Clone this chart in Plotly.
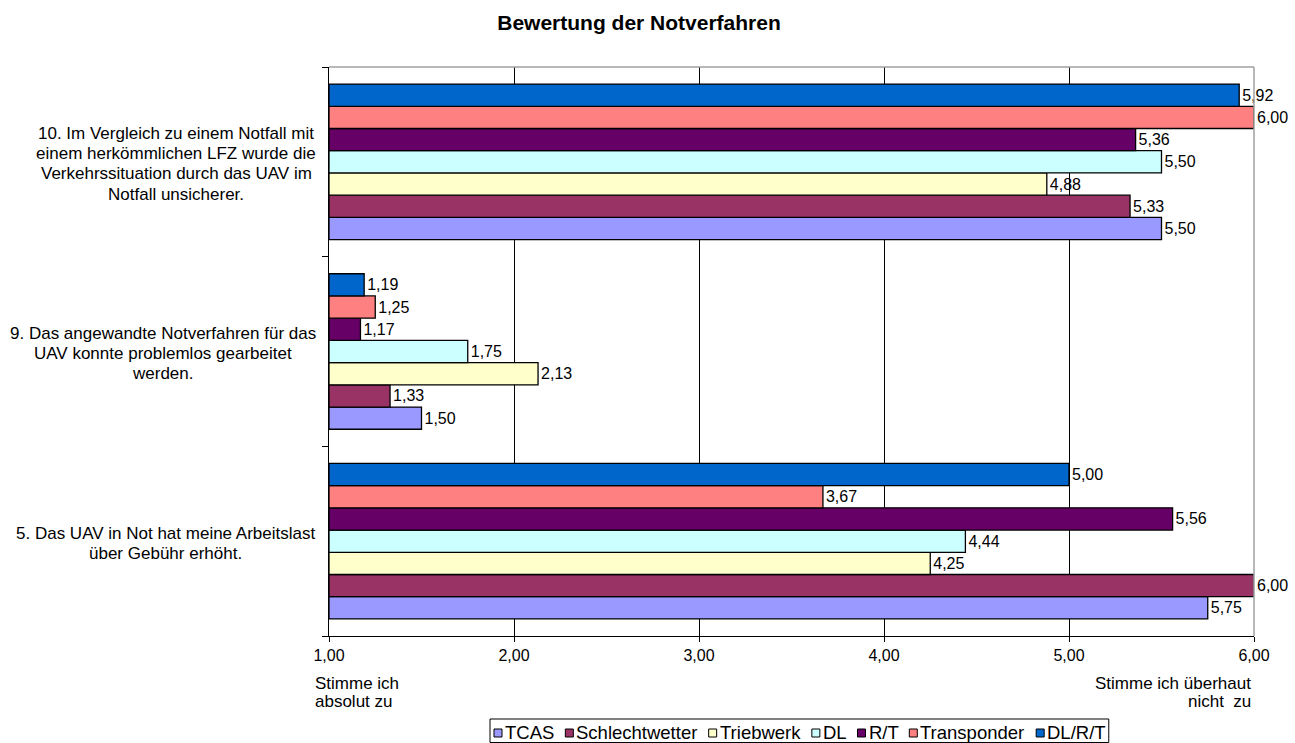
import plotly.graph_objects as go

category_lines = [
    ["5. Das UAV in Not hat meine Arbeitslast", "über Gebühr erhöht."],
    ["9. Das angewandte Notverfahren für das", "UAV konnte problemlos gearbeitet", "werden."],
    ["10. Im Vergleich zu einem Notfall mit", "einem herkömmlichen LFZ wurde die",
     "Verkehrssituation durch das UAV im", "Notfall unsicherer."],
]
categories = [" ".join(l) for l in category_lines]
series_names = ["TCAS", "Schlechtwetter", "Triebwerk", "DL", "R/T", "Transponder", "DL/R/T"]
tcas = [5.75, 1.50, 5.50]
schlechtwetter = [6.00, 1.33, 5.33]
triebwerk = [4.25, 2.13, 4.88]
dl = [4.44, 1.75, 5.50]
rt = [5.56, 1.17, 5.36]
transponder = [3.67, 1.25, 6.00]
dlrt = [5.00, 1.19, 5.92]
series_values = [tcas, schlechtwetter, triebwerk, dl, rt, transponder, dlrt]
colors = ["#9999FF", "#993366", "#FFFFCC", "#CCFFFF", "#660066", "#FF8080", "#0066CC"]
x_ticks = [1, 2, 3, 4, 5, 6]
x_min, x_max = 1, 6

FONT = "Liberation Sans, Arial, sans-serif"
W, H = 1295, 743
L, R, T, B = 329, 41, 67, 107
PW, PH = W - L - R, H - T - B


def px_x(px):
    return (px - L) / PW


def px_y(py):
    return (H - B - py) / PH


# Arial / Liberation Sans advance widths (em)
AW = {" ": .278, ".": .278, "/": .278, ",": .278,
      "A": .667, "B": .667, "C": .722, "D": .722, "E": .667, "F": .611, "G": .778, "H": .722,
      "I": .278, "K": .667, "L": .556, "M": .833, "N": .722, "O": .778, "P": .667, "R": .722,
      "S": .667, "T": .611, "U": .722, "V": .667, "W": .944, "Z": .611,
      "a": .556, "b": .556, "c": .5, "d": .556, "e": .556, "f": .278, "g": .556, "h": .556,
      "i": .222, "j": .222, "k": .5, "l": .222, "m": .833, "n": .556, "o": .556, "p": .556,
      "q": .556, "r": .333, "s": .5, "t": .278, "u": .556, "v": .5, "w": .722, "x": .5,
      "y": .5, "z": .5, "ü": .556, "ö": .556, "ä": .556}


def text_w(s, size):
    return sum(AW.get(ch, 0.556) for ch in s) * size


fig = go.Figure()
for name, vals, col in zip(series_names, series_values, colors):
    fig.add_trace(go.Bar(
        y=categories,
        x=[v - x_min for v in vals],
        base=x_min,
        orientation="h",
        name=name,
        marker=dict(color=col, line=dict(color="black", width=1.3)),
        text=[f"{v:.2f}".replace(".", ",") for v in vals],
        textposition="outside",
        textfont=dict(family=FONT, size=16, color="black"),
        cliponaxis=False,
        hoverinfo="skip",
        showlegend=False,
    ))

# category labels (centered multi-line blocks, right edge at ~316 px)
LINE_H = 20.3
CAT_FS = 17
for cat, lines in zip(categories, category_lines):
    n = len(lines)
    block_w = max(text_w(l, CAT_FS) for l in lines)
    center_px = 316 - block_w / 2
    for i, line in enumerate(lines):
        fig.add_annotation(
            x=px_x(center_px), xref="paper", y=cat, yref="y",
            yshift=((n - 1) / 2 - i) * LINE_H - 2,
            text=line, showarrow=False, xanchor="center",
            font=dict(family=FONT, size=CAT_FS, color="black"),
        )

# axis end captions
for txt, py in [("Stimme ich", 683), ("absolut zu", 701)]:
    fig.add_annotation(x=px_x(313), xref="paper", y=px_y(py), yref="paper", text=txt,
                       showarrow=False, xanchor="left", yanchor="middle",
                       font=dict(family=FONT, size=17, color="black"))
for txt, py in [("Stimme ich überhaut", 683), ("nicht  zu", 701)]:
    fig.add_annotation(x=px_x(1253), xref="paper", y=px_y(py), yref="paper", text=txt,
                       showarrow=False, xanchor="right", yanchor="middle",
                       font=dict(family=FONT, size=17, color="black"))

# gray top/right frame
fig.add_shape(type="line", xref="paper", yref="paper", x0=0, x1=1, y0=1, y1=1,
              line=dict(color="#A0A0A0", width=1.5))
fig.add_shape(type="line", xref="paper", yref="paper", x0=1, x1=1, y0=0, y1=1,
              line=dict(color="#A0A0A0", width=1.5))

# legend (compact, Excel style)
LEG_FS = 18.5
SQ = 8
leg_left = 490
cx = leg_left + 4
leg_cy = 732
for name, col in zip(series_names, colors):
    fig.add_shape(type="rect", xref="paper", yref="paper",
                  x0=px_x(cx), x1=px_x(cx + SQ), y0=px_y(leg_cy + SQ / 2 + 1), y1=px_y(leg_cy - SQ / 2 + 1),
                  fillcolor=col, line=dict(color="black", width=1))
    tx = cx + SQ + 1
    fig.add_annotation(x=px_x(tx), xref="paper", y=px_y(leg_cy), yref="paper", text=name,
                       showarrow=False, xanchor="left", yanchor="middle",
                       font=dict(family=FONT, size=LEG_FS, color="black"))
    cx = tx + text_w(name, LEG_FS) + 13
leg_right = cx - 8
fig.add_shape(type="rect", xref="paper", yref="paper",
              x0=px_x(leg_left), x1=px_x(leg_right), y0=px_y(742.5), y1=px_y(719),
              line=dict(color="black", width=1), fillcolor="rgba(0,0,0,0)")

fig.update_layout(
    width=W, height=H,
    margin=dict(l=L, r=R, t=T, b=B),
    paper_bgcolor="white", plot_bgcolor="white",
    separators=",.",
    barmode="group", bargap=0.18, bargroupgap=0,
    title=dict(text="<b>Bewertung der Notverfahren</b>", x=639 / W, xanchor="center",
               y=1 - 23 / H, yanchor="middle",
               font=dict(family=FONT, size=21, color="black")),
    font=dict(family=FONT, size=16, color="black"),
    xaxis=dict(range=[x_min, x_max], tickvals=x_ticks, tickformat=".2f",
               showgrid=True, gridcolor="black", gridwidth=1,
               showline=True, linecolor="black", linewidth=1.3,
               ticks="outside", ticklen=5, tickcolor="black",
               tickfont=dict(family=FONT, size=16, color="black"),
               zeroline=False, fixedrange=True),
    yaxis=dict(showticklabels=False, showline=True, linecolor="black", linewidth=1.3,
               ticks="outside", tickson="boundaries", ticklen=6, tickcolor="black",
               showgrid=False, fixedrange=True),
    showlegend=False,
)

fig.write_html("out.html")
